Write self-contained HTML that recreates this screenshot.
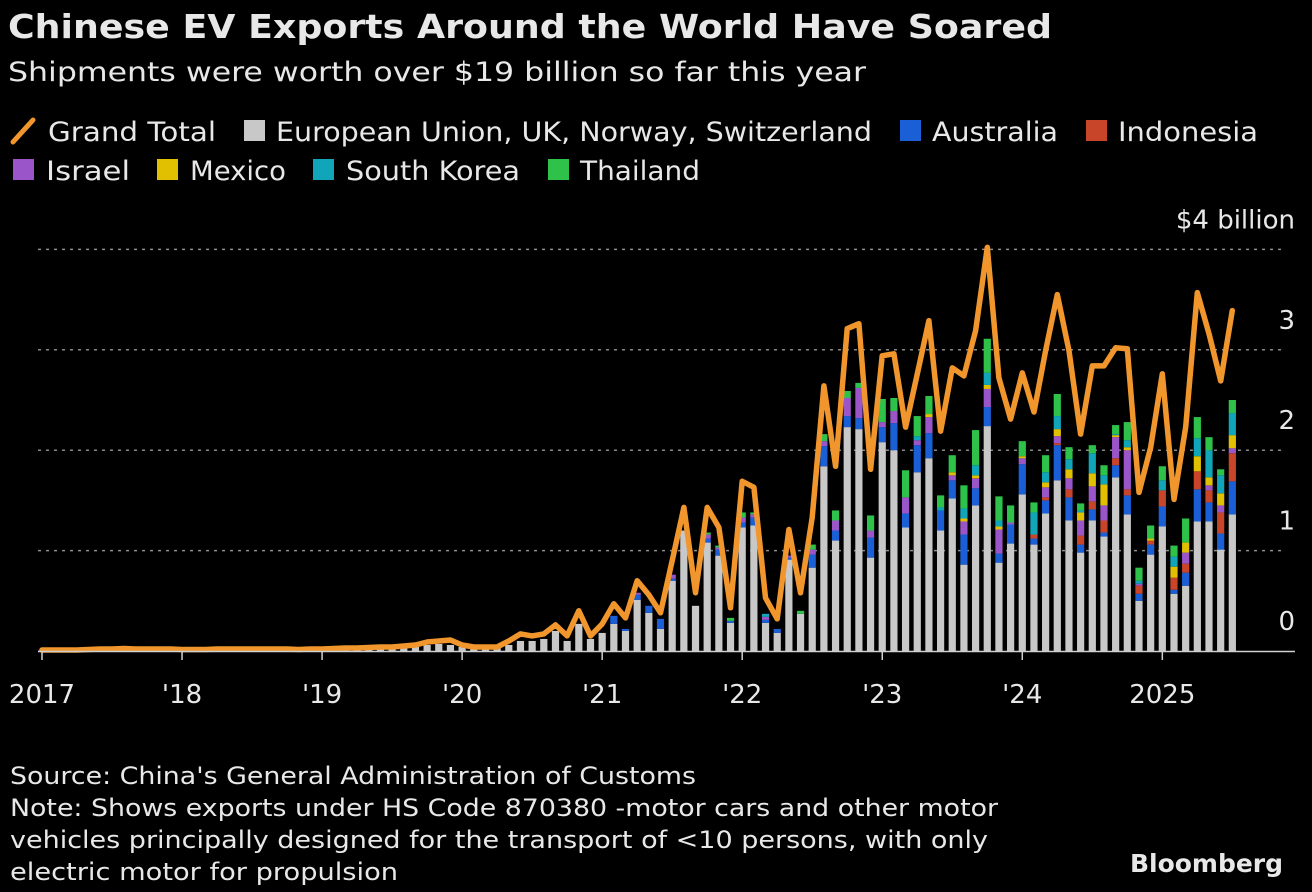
<!DOCTYPE html>
<html><head><meta charset="utf-8">
<style>
html,body{margin:0;padding:0;background:#000;}
svg{display:block;font-family:"DejaVu Sans","Liberation Sans",sans-serif;}
.t{fill:#e8e8e8;}
</style></head>
<body>
<svg id="chart" width="1312" height="892" viewBox="0 0 1312 892" xmlns="http://www.w3.org/2000/svg">
<rect x="0" y="0" width="1312" height="892" fill="#000"/>
<text class="t" x="8" y="38" font-size="33" font-weight="bold" textLength="1044" lengthAdjust="spacingAndGlyphs">Chinese EV Exports Around the World Have Soared</text>
<text class="t" x="8" y="81" font-size="27" textLength="858" lengthAdjust="spacingAndGlyphs">Shipments were worth over $19 billion so far this year</text>
<g>
  <g><line x1="13" y1="142" x2="33" y2="120" stroke="#f0962c" stroke-width="5" stroke-linecap="round"/><text class="t" x="48" y="141" font-size="27" textLength="168" lengthAdjust="spacingAndGlyphs">Grand Total</text></g>
  <g><rect x="244" y="120" width="21" height="21" fill="#c8c8c8"/><text class="t" x="276" y="141" font-size="27" textLength="596" lengthAdjust="spacingAndGlyphs">European Union, UK, Norway, Switzerland</text></g>
  <g><rect x="900" y="120" width="21" height="21" fill="#1a5fd6"/><text class="t" x="932" y="141" font-size="27" textLength="126" lengthAdjust="spacingAndGlyphs">Australia</text></g>
  <g><rect x="1086" y="120" width="21" height="21" fill="#c8452a"/><text class="t" x="1118" y="141" font-size="27" textLength="140" lengthAdjust="spacingAndGlyphs">Indonesia</text></g>
  <g><rect x="13" y="159" width="21" height="21" fill="#9a55c8"/><text class="t" x="46" y="180" font-size="27" textLength="84" lengthAdjust="spacingAndGlyphs">Israel</text></g>
  <g><rect x="157" y="159" width="21" height="21" fill="#e0c000"/><text class="t" x="190" y="180" font-size="27" textLength="96" lengthAdjust="spacingAndGlyphs">Mexico</text></g>
  <g><rect x="313" y="159" width="21" height="21" fill="#10a5b8"/><text class="t" x="346" y="180" font-size="27" textLength="174" lengthAdjust="spacingAndGlyphs">South Korea</text></g>
  <g><rect x="548" y="159" width="21" height="21" fill="#2ec24a"/><text class="t" x="580" y="180" font-size="27" textLength="120" lengthAdjust="spacingAndGlyphs">Thailand</text></g>
</g>
<g id="grid"></g>
<g id="bars"></g>
<g id="line"></g>
<g id="axes"></g>
<g>
<text class="t" x="10" y="784" font-size="24" textLength="686" lengthAdjust="spacingAndGlyphs">Source: China's General Administration of Customs</text>
<text class="t" x="10" y="816" font-size="24" textLength="988" lengthAdjust="spacingAndGlyphs">Note: Shows exports under HS Code 870380 -motor cars and other motor</text>
<text class="t" x="10" y="848" font-size="24" textLength="978" lengthAdjust="spacingAndGlyphs">vehicles principally designed for the transport of &lt;10 persons, with only</text>
<text class="t" x="10" y="880" font-size="24" textLength="388" lengthAdjust="spacingAndGlyphs">electric motor for propulsion</text>
<text class="t" x="1130" y="872" font-size="25" font-weight="bold" textLength="153" lengthAdjust="spacingAndGlyphs">Bloomberg</text>
</g>
</svg>
<script>
const yearLabels = ["2017","'18","'19","'20","'21","'22","'23","'24","2025"];
const yTicks = [0,1,2,3,4];
const yTickLabels = ["0","1","2","3","$4 billion"];
const z45 = new Array(45).fill(0);
const grey = [0.005,0.005,0.005,0.005,0.005,0.005,0.005,0.005,0.005,0.005,
0.005,0.005,0.005,0.005,0.005,0.005,0.005,0.005,0.005,0.005,
0.005,0.005,0.005,0.005,0.005,0.005,0.005,0.01,0.01,0.02,
0.03,0.03,0.04,0.06,0.07,0.06,0.04,0.02,0.02,0.03,
0.06,0.1,0.1,0.12,0.2,
0.10,0.27,0.12,0.18,0.27,0.20,0.51,0.38,0.22,0.70,
1.20,0.45,1.08,0.95,0.28,1.23,1.25,0.28,0.18,0.91,
0.37,0.83,1.84,1.10,2.23,2.21,0.93,2.08,2.00,1.23,
1.78,1.92,1.20,1.52,0.86,1.45,2.24,0.88,1.07,1.56,
1.06,1.37,1.70,1.30,0.98,1.30,1.14,1.73,1.36,0.50,
0.96,1.24,0.57,0.65,1.29,1.29,1.01,1.36];
const australia = z45.concat([0,0,0,0,0.08,0.02,0.05,0.07,0.1,0.02,
0,0,0.04,0.06,0.02,0.05,0.08,0.03,0.04,0.02,
0,0.13,0.2,0.1,0.11,0.11,0.2,0.15,0.27,0.14,
0.27,0.25,0.2,0.18,0.3,0.17,0.19,0.09,0.19,0.3,
0.06,0.13,0.35,0.23,0.08,0.11,0.04,0.12,0.19,0.07,
0.1,0.2,0.04,0.13,0.32,0.19,0.16,0.33]);
const indonesia = z45.concat([0,0,0,0,0,0,0,0,0,0,
0,0,0,0,0,0,0,0,0,0,
0,0,0,0,0,0,0,0,0,0,
0,0,0,0,0,0,0,0,0,0,
0.04,0.03,0.02,0.08,0.09,0.08,0.12,0.07,0.06,0.08,
0.04,0.16,0.12,0.09,0.18,0.12,0.21,0.28]);
const israel = z45.concat([0,0,0,0,0,0,0.02,0,0,0.04,
0,0,0.04,0.02,0,0.05,0.03,0.03,0,0.02,
0,0.05,0.05,0.1,0.18,0.3,0.07,0.05,0.12,0.16,
0.05,0.16,0,0.05,0.13,0.1,0.18,0.24,0.02,0.06,
0,0.1,0.07,0.11,0.15,0.15,0.15,0.21,0.39,0.02,
0,0,0,0.11,0,0.05,0.07,0.05]);
const mexico = z45.concat([0,0,0,0,0,0,0,0,0,0,
0,0,0,0,0,0,0,0,0,0,
0,0,0,0,0,0,0,0,0,0,
0,0.03,0,0.03,0.03,0.03,0.04,0.03,0,0.02,
0,0.05,0.07,0.09,0.08,0.13,0.21,0.02,0.03,0,
0.02,0,0.11,0.1,0.15,0.08,0.12,0.13]);
const southKorea = z45.concat([0,0,0,0,0,0,0,0,0,0,
0,0,0,0,0,0,0,0.03,0,0,
0,0,0,0,0,0,0,0,0,0,
0.04,0,0.03,0,0.1,0.1,0.12,0.06,0,0,
0.22,0.1,0.13,0.1,0.02,0.2,0.09,0.01,0.07,0.03,
0,0.1,0.1,0,0.18,0.27,0.18,0.22]);
const thailand = z45.concat([0,0,0,0,0,0,0,0,0,0,
0,0,0.02,0.02,0.03,0.05,0.02,0,0,0,
0.03,0.05,0.07,0.1,0.07,0.05,0.15,0.23,0.13,0.27,
0.2,0.18,0.12,0.17,0.23,0.35,0.34,0.24,0.17,0.15,
0.1,0.17,0.22,0.12,0.07,0.08,0.1,0.09,0.18,0.13,
0.13,0.14,0.11,0.24,0.21,0.13,0.06,0.13]);
const grandTotal = [0.01,0.01,0.01,0.01,0.015,0.02,0.02,0.025,0.02,0.02,
0.02,0.02,0.015,0.015,0.015,0.02,0.02,0.02,0.02,0.02,
0.02,0.02,0.015,0.02,0.02,0.025,0.03,0.03,0.035,0.04,
0.04,0.05,0.06,0.09,0.1,0.11,0.06,0.04,0.04,0.04,
0.1,0.17,0.15,0.17,0.26,
0.15,0.40,0.15,0.27,0.47,0.33,0.70,0.56,0.38,0.90,
1.43,0.58,1.43,1.23,0.43,1.69,1.63,0.53,0.32,1.21,
0.58,1.33,2.64,1.84,3.21,3.26,1.81,2.94,2.96,2.23,
2.76,3.29,2.19,2.82,2.74,3.19,4.02,2.72,2.31,2.77,
2.38,2.99,3.55,2.99,2.16,2.84,2.84,3.02,3.01,1.58,
2.03,2.76,1.51,2.23,3.57,3.16,2.69,3.39];

const NS="http://www.w3.org/2000/svg";
const X0=42, MONTH=11.67, Y0=651, UNIT=100.4;
function xScale(i){return X0+i*MONTH;}
function yScale(v){return Y0-v*UNIT;}
function mk(tag,attrs,parent){const e=document.createElementNS(NS,tag);for(const k in attrs)e.setAttribute(k,attrs[k]);parent.appendChild(e);return e;}

const grid=document.getElementById('grid');
yTicks.forEach((t,k)=>{
  if(t>0){
    const g=mk('line',{x1:38,x2:1282,y1:yScale(t),y2:yScale(t),stroke:'#8a8a8a','stroke-width':1.5,'stroke-dasharray':'3 5'},grid);
    
    
  }
  const lb=mk('text',{x:1295,y:yScale(t)-21,'text-anchor':'end','font-size':26,fill:'#e8e8e8'},grid);
  lb.textContent=yTickLabels[k];
  
  
});

const series=[[grey,'#c8c8c8','eu'],[australia,'#1a5fd6','australia'],[indonesia,'#c8452a','indonesia'],[israel,'#9a55c8','israel'],[mexico,'#e0c000','mexico'],[southKorea,'#10a5b8','south-korea'],[thailand,'#2ec24a','thailand']];
const bars=document.getElementById('bars');
for(let i=0;i<grey.length;i++){
  let base=0;
  series.forEach(s=>{
    const v=s[0][i]||0;
    if(v<=0) return;
    const r=mk('rect',{x:xScale(i)-3.6,y:yScale(base+v),width:7.2,height:v*UNIT,fill:s[1]},bars);
    
    
    base+=v;
  });
}

const lg=document.getElementById('line');
const pts=grandTotal.map((v,i)=>xScale(i).toFixed(1)+','+yScale(v).toFixed(1)).join(' ');
const pl=mk('polyline',{points:pts,fill:'none',stroke:'#f0962c','stroke-width':5.5,'stroke-linejoin':'round','stroke-linecap':'round'},lg);



const axes=document.getElementById('axes');
const base=mk('line',{x1:38,x2:1295,y1:Y0+0.5,y2:Y0+0.5,stroke:'#d0d0d0','stroke-width':1.5},axes);


yearLabels.forEach((lab,k)=>{
  const x=xScale(k*12);
  const tk=mk('line',{x1:x,x2:x,y1:Y0,y2:Y0+9,stroke:'#d0d0d0','stroke-width':1.5},axes);
  
  
  const t=mk('text',{x:x,y:703,'text-anchor':'middle','font-size':26,fill:'#e8e8e8'},axes);
  t.textContent=lab;
  
  
});
</script>
</body></html>
